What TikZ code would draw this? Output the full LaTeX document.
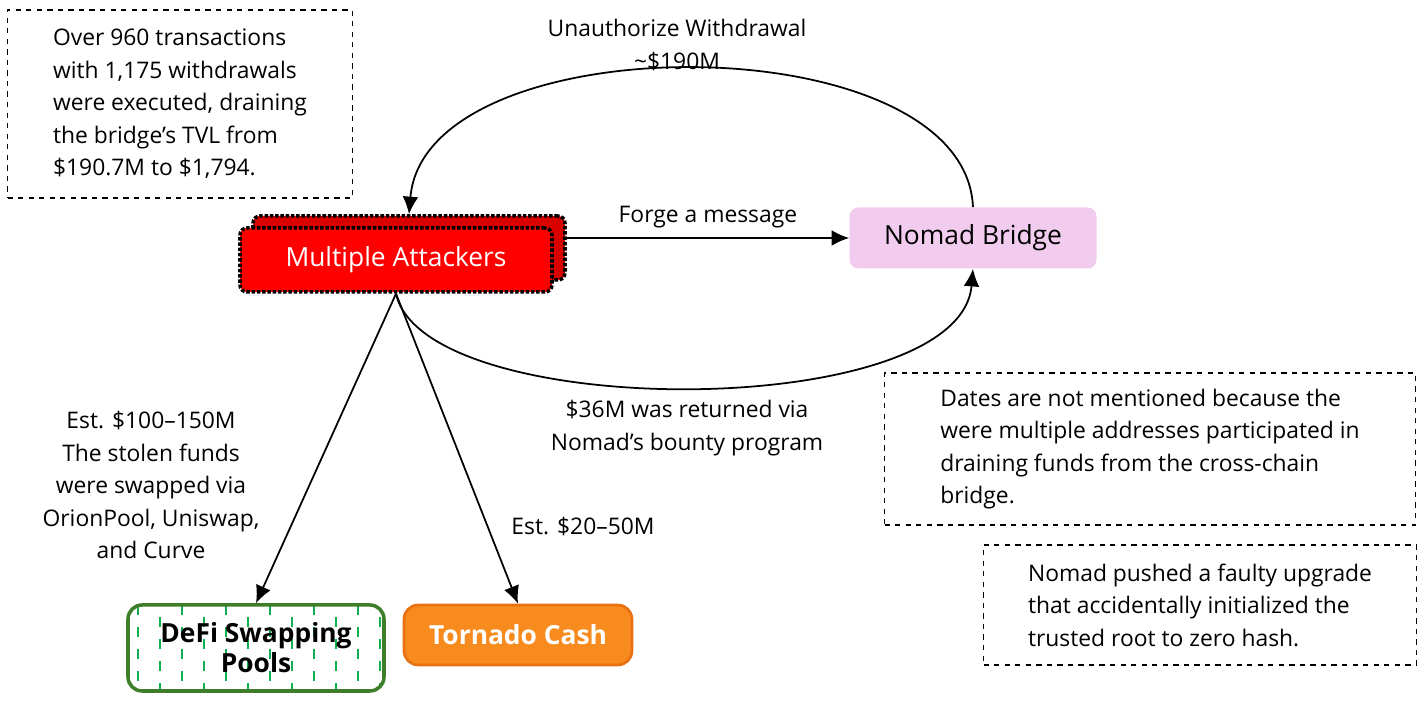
\documentclass[tikz,border=0pt]{standalone}
\usepackage{fontspec}
\setmainfont{Open Sans}
\usetikzlibrary{arrows.meta,positioning}
\definecolor{attred}{HTML}{FF0000}
\definecolor{nomadpink}{HTML}{F2CCEE}
\definecolor{tornorange}{HTML}{F78B1E}
\definecolor{tornedge}{HTML}{E97112}
\definecolor{defigreen}{HTML}{3E7D2A}
\definecolor{defidash}{HTML}{10B050}
\tikzset{
  note/.style={draw,dashed,line width=1pt,minimum width=#1,inner sep=6pt,align=left,font=\fontsize{13}{18.5}\selectfont},
  lbl/.style={align=center,font=\fontsize{13}{18.5}\selectfont},
  arr/.style={-{Latex[length=10pt,width=9pt]},line width=1pt},
}
\begin{document}
\begin{tikzpicture}
  \useasboundingbox (0,0) rectangle (28.4,14.24);
  % attackers, stacked
  \node[draw,densely dotted,line width=2pt,fill=attred!85!black,rounded corners=4pt,minimum width=6.24cm,minimum height=1.28cm] (back) at (8.18,9.28) {};
  \node[draw,densely dotted,line width=2pt,fill=attred,rounded corners=4pt,minimum width=6.24cm,minimum height=1.28cm,text=white,font=\fontsize{15}{18}\selectfont] (attackers) at (7.92,9.04) {Multiple Attackers};
  \node[fill=nomadpink,rounded corners=5pt,minimum width=4.94cm,minimum height=1.22cm,font=\fontsize{15}{18}\selectfont] (nomad) at (19.46,9.48) {Nomad Bridge};
  \node[draw=defigreen,line width=2pt,rounded corners=8pt,minimum width=5.12cm,minimum height=1.72cm,align=center,font=\bfseries\fontsize{15}{17}\selectfont,
    path picture={\foreach \i in {0,...,11}{
      \pgfmathsetmacro\ph{mod(\i,2)*0.2}
      \draw[defidash,line width=1.3pt,dash pattern=on 0.2cm off 0.24cm,dash phase=\ph cm]
        ([xshift=0.2cm+\i*0.44cm]path picture bounding box.north west) -- ([xshift=0.2cm+\i*0.44cm]path picture bounding box.south west);}}] (defi) at (5.12,1.28) {DeFi Swapping\\Pools};
  \node[draw=tornedge,line width=1.5pt,fill=tornorange,rounded corners=8pt,minimum width=4.56cm,minimum height=1.2cm,text=white,font=\bfseries\fontsize{15}{18}\selectfont] (tornado) at (10.36,1.54) {Tornado Cash};
  % notes
  \node[note=6.9cm,minimum height=3.76cm] (note1) at (3.6,12.16) {Over 960 transactions\\with 1,175 withdrawals\\were executed, draining\\the bridge’s TVL from\\\$190.7M to \$1,794.};
  \node[note=10.62cm,minimum height=3.04cm] (note2) at (23.0,5.26) {Dates are not mentioned because the\\were multiple addresses participated in\\draining funds from the cross-chain\\bridge.};
  \node[note=8.66cm,minimum height=2.4cm] (note3) at (24.0,2.14) {Nomad pushed a faulty upgrade\\that accidentally initialized the\\trusted root to zero hash.};
  % flows
  \draw[arr] (back.east |- nomad.west) -- node[lbl,above=2pt] {Forge a message} (nomad.west);
  \draw[arr] (nomad.north) .. controls (19.3,13.8) and (8.5,13.8) .. (back.north);
  \draw[arr] (attackers.south) .. controls (8.5,5.79) and (19.2,5.79) .. (nomad.south);
  \draw[arr] (attackers.south) -- (defi.north);
  \draw[arr] (attackers.south) -- (tornado.north);
  \node[lbl] (withdrawal) at (13.54,13.34) {Unauthorize Withdrawal\\\textasciitilde\$190M};
  \node[lbl] (bounty) at (13.74,5.68) {\$36M was returned via\\Nomad’s bounty program};
  \node[lbl] (swapped) at (3.02,4.54) {Est. \$100–150M\\The stolen funds\\were swapped via\\OrionPool, Uniswap,\\and Curve};
  \node[lbl] (mixer) at (11.66,3.7) {Est. \$20–50M};
\end{tikzpicture}
\end{document}
